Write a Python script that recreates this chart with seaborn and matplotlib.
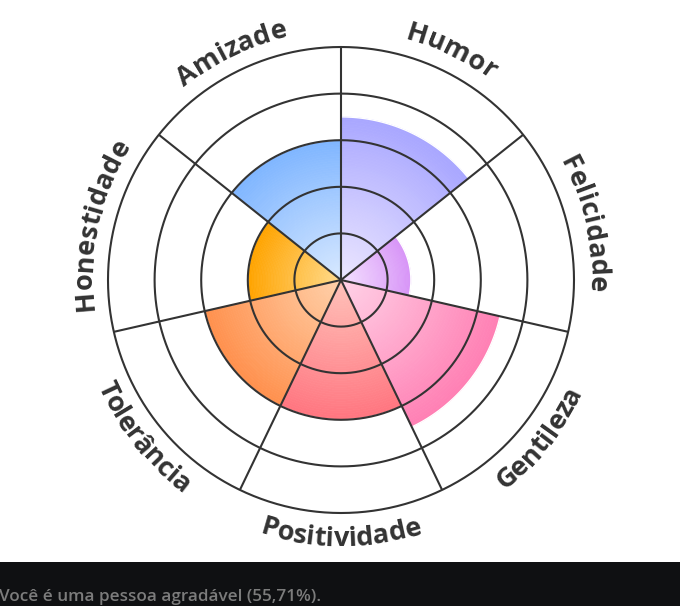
import numpy as np
import matplotlib
matplotlib.use("Agg")
import matplotlib.pyplot as plt
import seaborn as sns
from matplotlib.font_manager import FontProperties
from matplotlib.patches import Rectangle

# ---------------- data ----------------
categories = ["Humor", "Felicidade", "Gentileza", "Positividade",
              "Tolerância", "Honestidade", "Amizade"]
values = [70, 30, 70, 60, 60, 40, 60]
outer_colors = ["#a9a7ff", "#d895f7", "#ff80b4", "#ff7680",
                "#ff914e", "#ffa400", "#80b6ff"]
inner_colors = ["#ece7ff", "#f4e2ff", "#ffd2e7", "#ffc2ba",
                "#ffd1aa", "#ffdb8c", "#d8e9ff"]
grid_levels = [20, 40, 60, 80, 100]
caption = "Você é uma pessoa agradável (55,71%)."

# ---------------- layout ----------------
W, H, DPI = 680, 606, 100
CX, CY, R = 341, 280, 233
GRID = "#333333"

sns.set_theme(style="white")
plt.rcParams["font.family"] = ["Open Sans", "DejaVu Sans"]

fig = plt.figure(figsize=(W / DPI, H / DPI), dpi=DPI)
fig.patch.set_facecolor("white")
ax = fig.add_axes([(CX - R) / W, (H - CY - R) / H, 2 * R / W, 2 * R / H],
                  projection="polar")
ax.set_theta_zero_location("N")
ax.set_theta_direction(-1)
ax.set_ylim(0, 100)
ax.set_axis_off()

n = len(categories)
wedge = 2 * np.pi / n
starts = np.arange(n) * wedge

# gradient wedges (stacked radial segments)
NSEG = 60
for i, (v, c0, c1) in enumerate(zip(values, inner_colors, outer_colors)):
    pal = sns.blend_palette([c0, c1], n_colors=NSEG)
    edges = np.linspace(0, v, NSEG + 1)
    ax.bar(np.full(NSEG, starts[i]), np.diff(edges), width=wedge,
           bottom=edges[:-1], align="edge", color=pal, edgecolor=pal,
           linewidth=0.5, zorder=2)
    th = np.linspace(starts[i], starts[i] + wedge, 80)
    ax.plot(th, np.full_like(th, v), color="white", lw=1.0, zorder=3)

# grid circles and spokes
theta = np.linspace(0, 2 * np.pi, 721)
for lvl in grid_levels:
    ax.plot(theta, np.full_like(theta, lvl), color=GRID, lw=1.5,
            zorder=5, clip_on=False)
for s in starts:
    ax.plot([s, s], [0, grid_levels[-1]], color=GRID, lw=1.5,
            zorder=5, clip_on=False, solid_capstyle="butt")

# ---------------- curved labels ----------------
fp = FontProperties(family=["Open Sans", "DejaVu Sans"], weight="bold", size=19.5)
renderer = fig.canvas.get_renderer()


def tw(s, prop=fp):
    if not s:
        return 0.0
    w, _, _ = renderer.get_text_width_height_descent(s, prop, ismath=False)
    return w


def curved(label, mid):
    total = tw(label)
    bottom = np.pi / 2 < mid < 3 * np.pi / 2
    rb = 266 if bottom else 249
    for k, ch in enumerate(label):
        c = 0.5 * (tw(label[:k]) + tw(label[:k + 1]))
        if bottom:
            phi = mid + total / (2 * rb) - c / rb
            rot = 180 - np.degrees(phi)
        else:
            phi = mid - total / (2 * rb) + c / rb
            rot = -np.degrees(phi)
        x = CX + rb * np.sin(phi)
        y = CY - rb * np.cos(phi)
        fig.text(x / W, 1 - y / H, ch, fontproperties=fp, color="#333333",
                 rotation=rot, rotation_mode="anchor", ha="center",
                 va="baseline")


for i, lab in enumerate(categories):
    curved(lab, starts[i] + wedge / 2)

# ---------------- caption band ----------------
fig.patches.append(Rectangle((0, 0), 1, 44 / H, transform=fig.transFigure,
                             facecolor="#0f1012", edgecolor="none", zorder=0))
cap_fp = FontProperties(family=["Open Sans", "DejaVu Sans"], weight="semibold",
                        size=11)
cap_fp.set_size(11 * 320 / tw(caption, cap_fp))
fig.text(-1 / W, 5 / H, caption, color="#7c7c7c", fontproperties=cap_fp,
         ha="left", va="baseline")

fig.savefig("out.png", dpi=DPI, facecolor="white")
